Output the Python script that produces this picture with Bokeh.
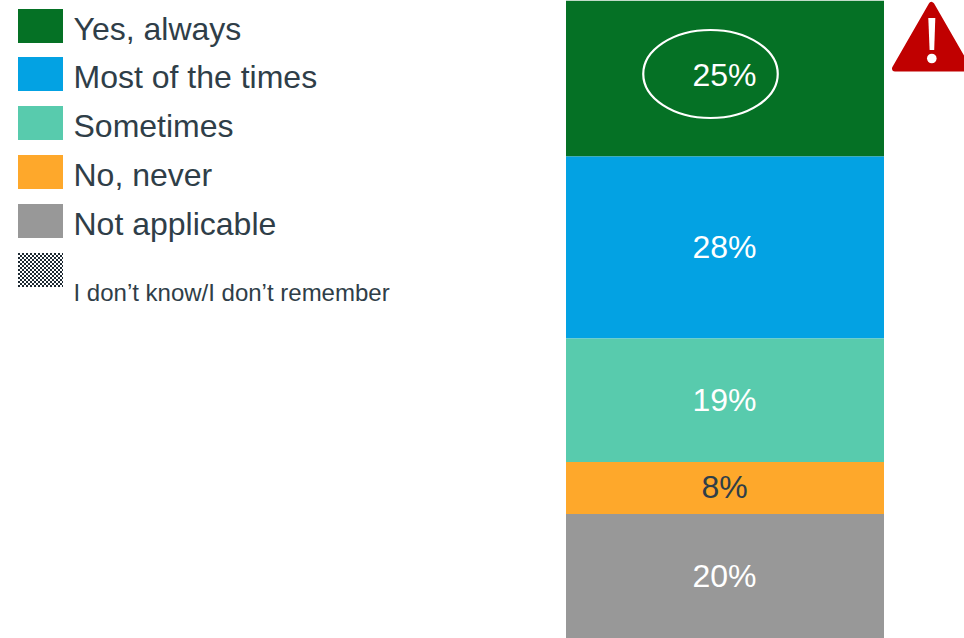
import numpy as np
from bokeh.core.properties import value
from bokeh.embed import file_html
from bokeh.models import ColumnDataSource, LinearScale, Range1d
from bokeh.plotting import figure
from bokeh.resources import INLINE

# Survey answers, top of the stack first
categories = ["Yes, always", "Most of the times", "Sometimes", "No, never", "Not applicable"]
shares = [25, 28, 19, 8, 20]
colors = ["#057125", "#03A2E3", "#58CBAD", "#FEA82B", "#989898"]
label_colors = ["#FFFFFF", "#FFFFFF", "#FFFFFF", "#2F3E48", "#FFFFFF"]
extra_category = "I don\u2019t know/I don\u2019t remember"

FONT = value("Liberation Sans")
INK = "#2F3E48"

# Half-pixel offset keeps filled edges on the pixel grid
p = figure(
    width=964, height=638, output_backend="svg", toolbar_location=None,
    x_range=Range1d(0.5, 964.5), y_range=Range1d(0.85, 99.0),
    min_border=0, outline_line_color=None, background_fill_color="white",
)
p.xaxis.visible = False
p.yaxis.visible = False
p.grid.visible = False
p.extra_y_ranges["page"] = Range1d(638.5, 0.5)
p.extra_y_scales["page"] = LinearScale()

# Stacked column, built downward from 100%
tops = 100 - np.cumsum([0] + shares[:-1])
bottoms = tops - np.array(shares)
bars = ColumnDataSource(dict(
    x=[725] * 5, top=tops, bottom=bottoms, color=colors,
    mid=(tops + bottoms) / 2, text=[f"{s}%" for s in shares], text_color=label_colors,
    y_shift=[0, -1, 0, -1, 0],
))
p.vbar(x="x", top="top", bottom="bottom", width=318, fill_color="color", line_color=None, source=bars)

# The last label sits in the middle of the part of its segment left on the page
visible_mid = bars.data["mid"].copy()
visible_mid[-1] += 0.45
bars.data["label_y"] = visible_mid
p.text(x="x", y="label_y", text="text", text_color="text_color", text_font=FONT, text_font_size="32px",
       text_align="center", text_baseline="middle", x_offset=-0.5, y_offset="y_shift", source=bars)

# Ring around the leading answer
p.ellipse(x=710.5, y=74, width=134.5, height=88, fill_color=None, line_color="white", line_width=2.2,
          y_range_name="page")

# Warning sign beside the column
p.patch([931.5, 968, 895], [5, 68.5, 68.5], fill_color="#C00000", line_color="#C00000",
        line_width=6, line_join="round", y_range_name="page")
p.patch([928.3, 935.3, 934.2, 929.6], [18, 18, 50, 50], fill_color="white", line_color=None, y_range_name="page")
p.circle(x=[931.8], y=[58.5], radius=4.8, fill_color="white", line_color=None, y_range_name="page")

# Legend
swatch_tops = [9, 57, 106, 155, 204]
p.quad(left=18, right=63, top=swatch_tops, bottom=[t + 34 for t in swatch_tops], fill_color=colors,
       line_color=None, y_range_name="page")
p.text(x=[73.5] * 5, y=[t + 20 for t in swatch_tops], text=categories, text_color=INK, text_font=FONT,
       text_font_size="32px", text_align="left", text_baseline="middle", y_range_name="page")

# Checkered swatch for the unrated answer
ci, cj = np.meshgrid(np.arange(23), np.arange(17))
mask = ((ci + cj) % 2 == 0).ravel()
left = 18 + 2 * ci.ravel()[mask]
top = 253 + 2 * cj.ravel()[mask]
p.quad(left=left, right=np.minimum(left + 2, 63), top=top, bottom=top + 2, fill_color="#1E2A33",
       line_color=None, y_range_name="page")
p.text(x=[73.5], y=[292], text=[extra_category], text_color=INK, text_font=FONT, text_font_size="24px",
       text_align="left", text_baseline="middle", y_range_name="page")

open("out.html", "w").write(file_html(p, INLINE))
